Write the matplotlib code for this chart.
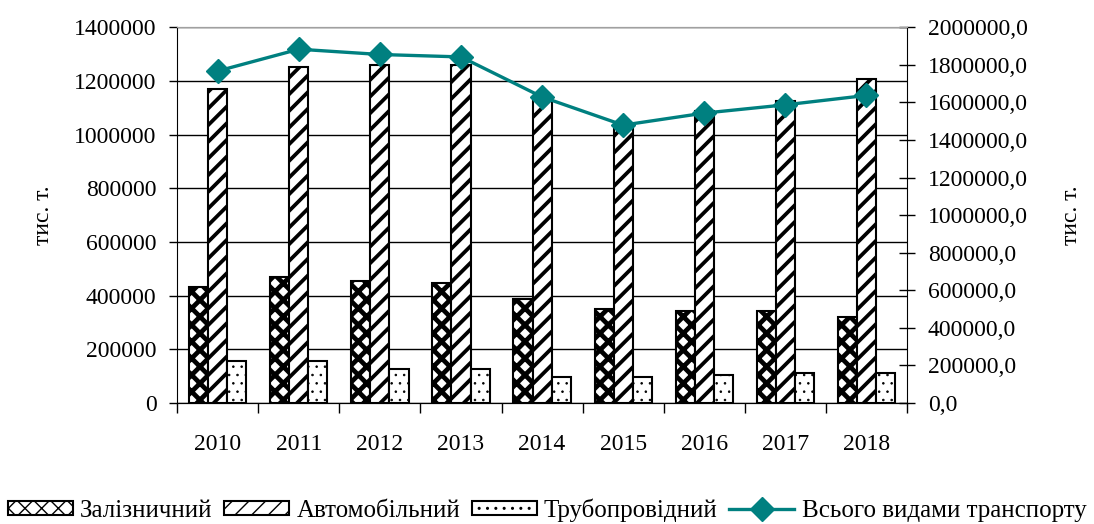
import numpy as np
import matplotlib
matplotlib.use('Agg')
import matplotlib.pyplot as plt
from matplotlib.ticker import FuncFormatter, MultipleLocator

# дані (тис. т.)
roky = ['2010', '2011', '2012', '2013', '2014', '2015', '2016', '2017', '2018']
zaliznychnyi = [433000, 470000, 455000, 447000, 388000, 351000, 342000, 342000, 321000]
avtomobilnyi = [1169000, 1251000, 1259000, 1259000, 1133000, 1021000, 1088000, 1125000, 1207000]
truboprovidnyi = [157000, 157000, 128000, 128000, 98000, 98000, 105000, 113000, 113000]
vsogo = [1767000, 1883000, 1855000, 1842000, 1629000, 1479000, 1543000, 1587000, 1637000]

plt.rcParams['font.family'] = 'Liberation Serif'
plt.rcParams['font.size'] = 17

fig = plt.figure(figsize=(10.94, 5.24), dpi=100)
ax = fig.add_axes([0.162, 0.231, 0.667, 0.717])

x = np.arange(len(roky))
w = 0.235
with plt.rc_context({'hatch.linewidth': 3.4}):
    b1 = ax.bar(x - w, zaliznychnyi, w, color='white', edgecolor='black', hatch='xx', linewidth=1.5, zorder=3, label='Залізничний')
with plt.rc_context({'hatch.linewidth': 2.7}):
    b2 = ax.bar(x, avtomobilnyi, w, color='white', edgecolor='black', hatch='//', linewidth=1.5, zorder=3, label='Автомобільний')
with plt.rc_context({'hatch.linewidth': 0.6}):
    b3 = ax.bar(x + w, truboprovidnyi, w, color='white', edgecolor='black', hatch='..', linewidth=1.5, zorder=3, label='Трубопровідний')

ax.set_xlim(-0.5, len(roky) - 0.5)
ax.set_ylim(0, 1400000)
ax.yaxis.set_major_locator(MultipleLocator(200000))
ax.yaxis.set_major_formatter(FuncFormatter(lambda v, p: '%d' % v))
ax.grid(axis='y', color='black', linewidth=1, zorder=0)
ax.set_xticks(x)
ax.set_xticklabels(roky)
ax.set_xticks(np.arange(-0.5, len(roky), 1), minor=True)
ax.tick_params(axis='x', which='major', length=0, pad=22)
ax.tick_params(axis='x', which='minor', length=7, width=1)
ax.tick_params(axis='y', length=6, width=1, pad=9)
ax.set_ylabel('тис. т.', labelpad=14)
ax.spines['top'].set_color('#a0a0a0')
ax.spines['right'].set_visible(False)

ax2 = ax.twinx()
ln, = ax2.plot(x, vsogo, color='#008080', linewidth=2.4, marker='D', markersize=12.5, zorder=5, label='Всього видами транспорту')
ax2.set_ylim(0, 2000000)
ax2.yaxis.set_major_locator(MultipleLocator(200000))
ax2.yaxis.set_major_formatter(FuncFormatter(lambda v, p: ('%.1f' % v).replace('.', ',')))
ax2.tick_params(axis='y', direction='inout', length=12, width=1, pad=9)
ax2.set_ylabel('тис. т.', labelpad=24)
ax2.spines['top'].set_color('#a0a0a0')
ax2.spines['left'].set_visible(False)

fig.legend(handles=[b1, b2, b3, ln], loc='center', bbox_to_anchor=(0.5, 0.027), ncol=4,
           frameon=False, fontsize=18, handlelength=2.6, handleheight=0.5, handletextpad=0.3,
           columnspacing=0.45, borderaxespad=0)

fig.savefig('out.png', dpi=100)
